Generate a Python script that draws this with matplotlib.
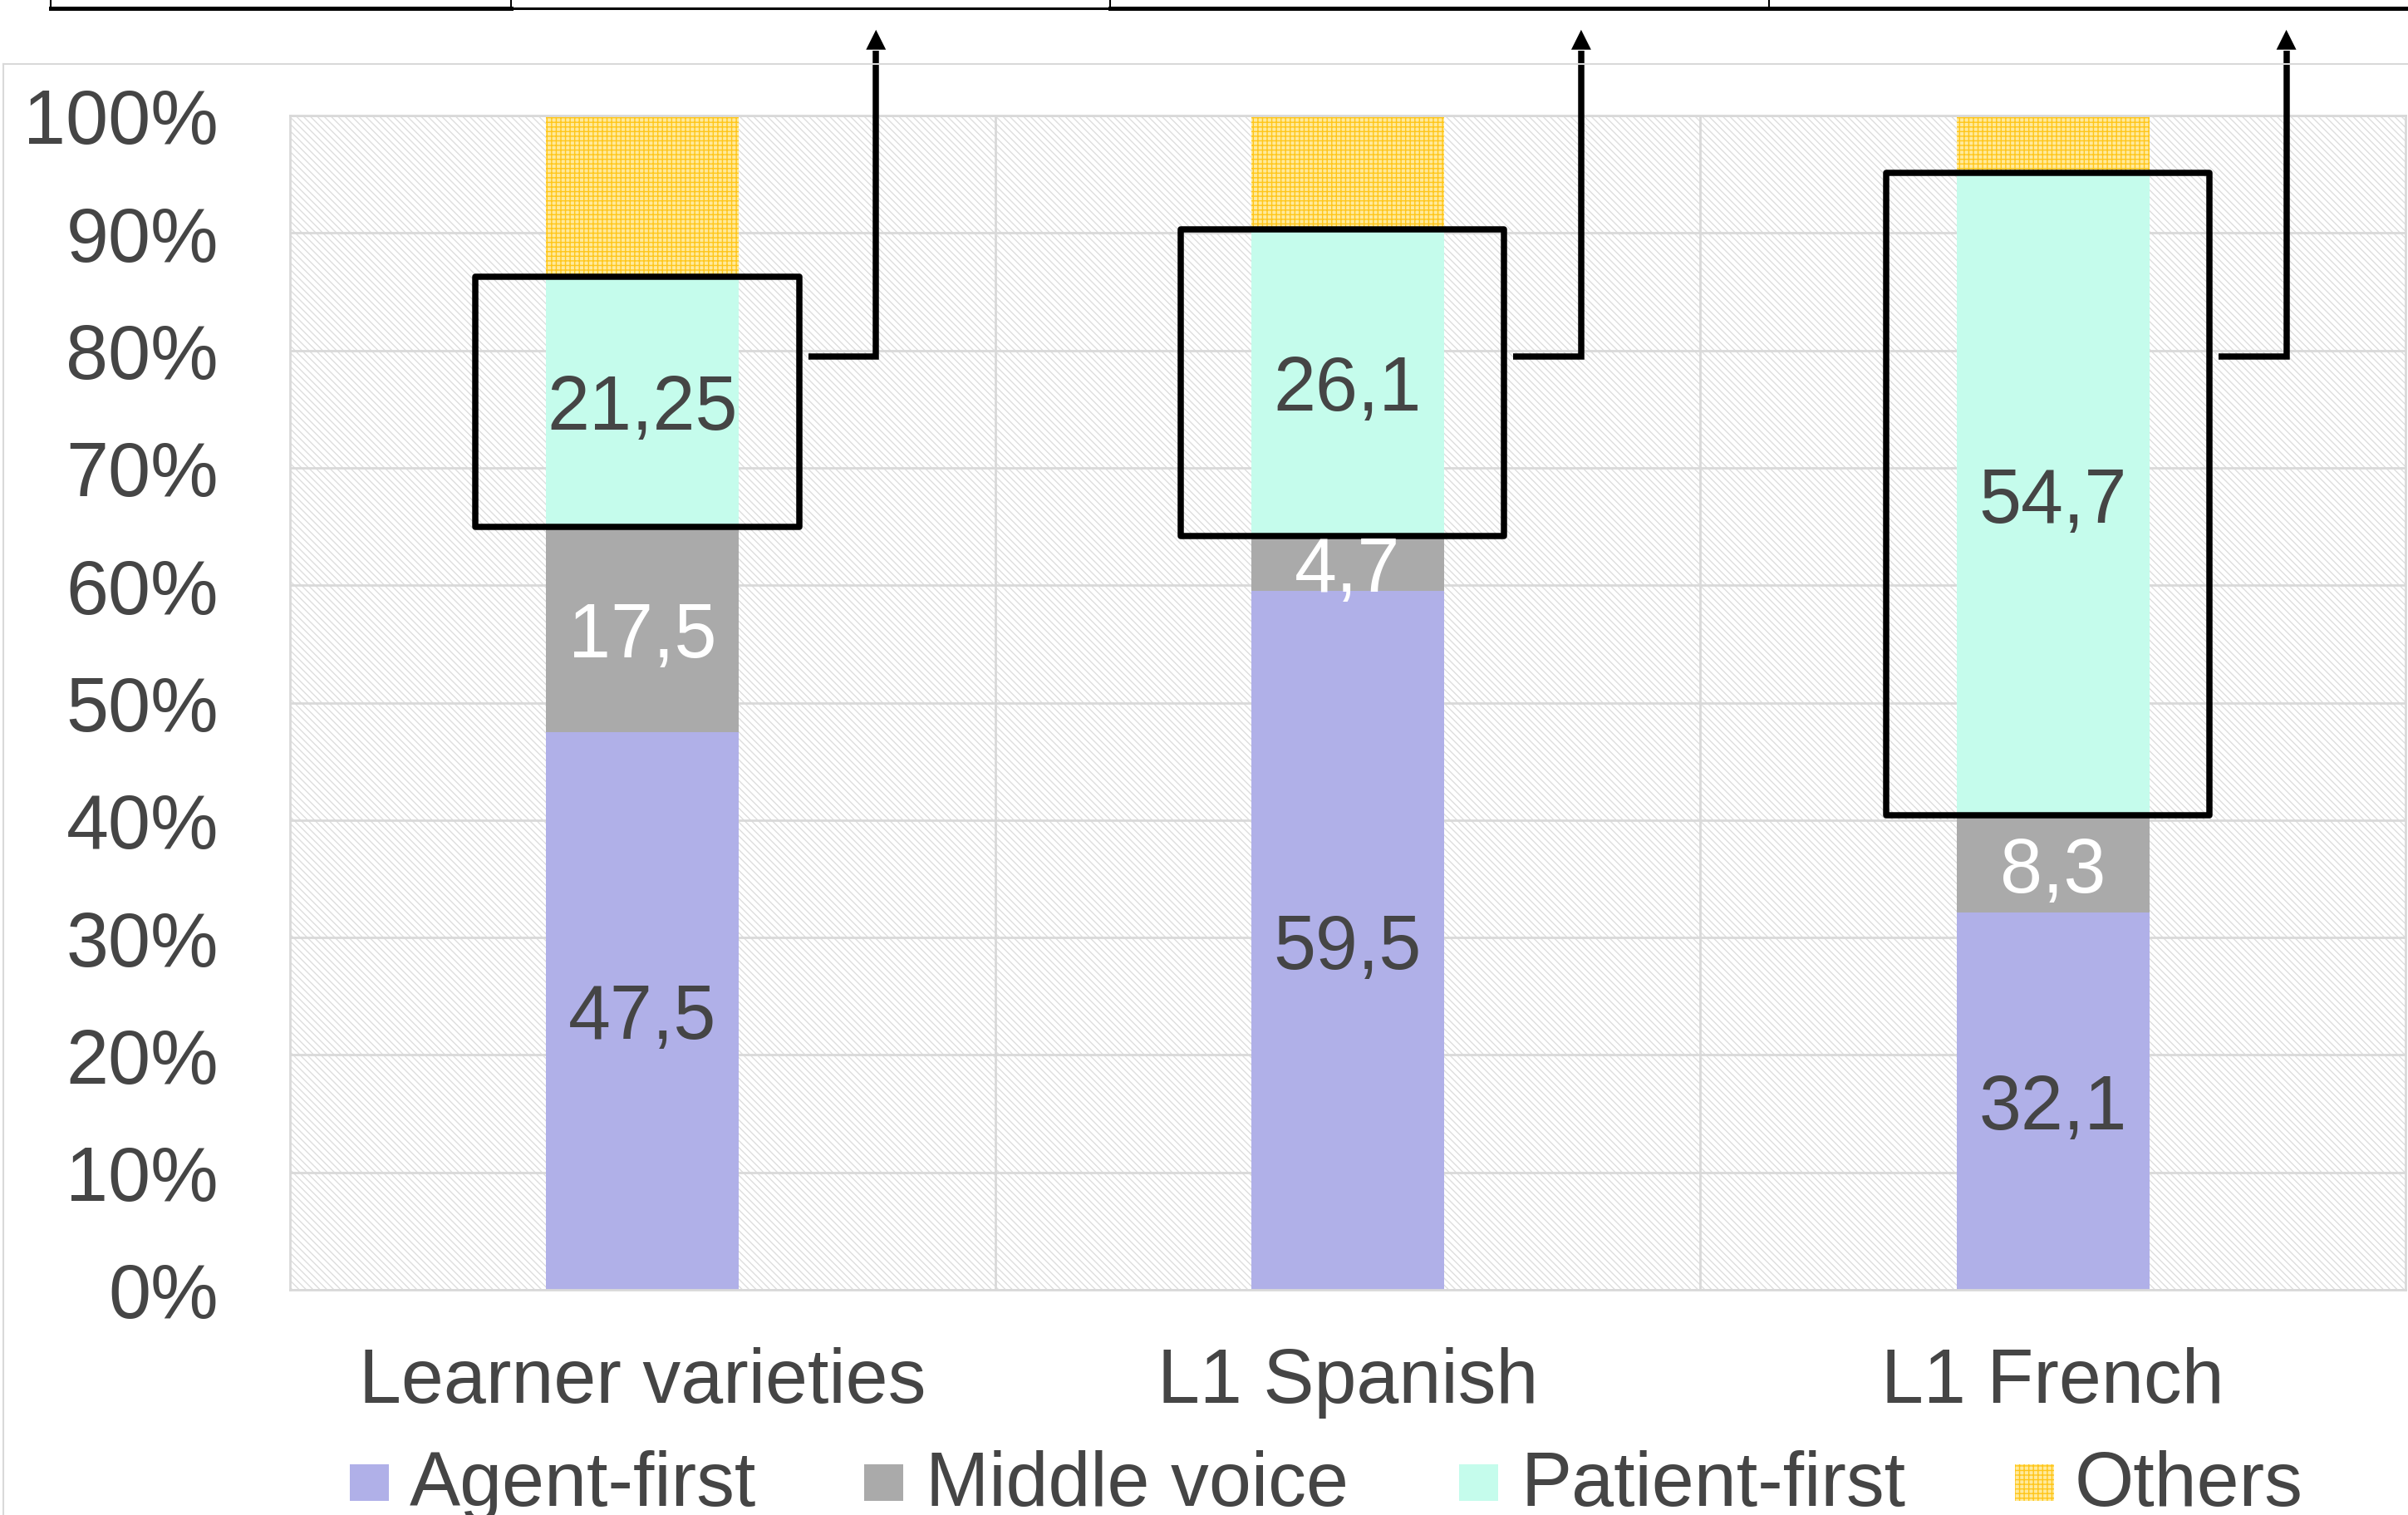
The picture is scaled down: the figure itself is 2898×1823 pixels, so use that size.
import matplotlib
matplotlib.use("Agg")
import matplotlib.pyplot as plt
from matplotlib.patches import Rectangle
from matplotlib.lines import Line2D
import numpy as np

# --- data (percent) ---
categories = ["Learner varieties", "L1 Spanish", "L1 French"]
series_names = ["Agent-first", "Middle voice", "Patient-first", "Others"]
agent_first = [47.5, 59.5, 32.1]
middle_voice = [17.5, 4.7, 8.3]
patient_first = [21.25, 26.1, 54.7]
others = [13.75, 9.7, 4.9]
y_ticks = [0, 10, 20, 30, 40, 50, 60, 70, 80, 90, 100]

# --- styling ---
TXT = "#454545"
GRID = "#D9D9D9"
AGENT = "#B0B0E8"
MIDDLE = "#AAAAAA"
PATIENT = "#C5FCEC"
OTHERS_BASE = "#FFEA9C"
OTHERS_HATCH = "#FFC61A"
FS = 66

plt.rcParams["font.family"] = ["Liberation Sans", "DejaVu Sans"]
plt.rcParams["hatch.linewidth"] = 1.0

W, H = 2898, 1824
fig = plt.figure(figsize=(W / 100, H / 100), dpi=100)
ax = fig.add_axes([349 / W, 1 - 1553 / H, (2895 - 349) / W, (1553 - 140) / H])

# plot-area background with fine diagonal pattern
ax.add_patch(Rectangle((0, 0), 1, 1, transform=ax.transAxes, facecolor="white",
                       edgecolor="#DEDEDE", hatch="\\\\\\\\", lw=0, zorder=0))

x = np.arange(len(categories))
bottom = np.zeros(len(categories))
specs = [
    (agent_first, dict(color=AGENT), TXT),
    (middle_voice, dict(color=MIDDLE), "white"),
    (patient_first, dict(color=PATIENT), TXT),
    (others, dict(facecolor=OTHERS_BASE, edgecolor=OTHERS_HATCH, hatch="+++"), None),
]
for vals, kw, lab_col in specs:
    bars = ax.bar(x, vals, width=0.273, bottom=bottom, linewidth=0, zorder=2, **kw)
    if lab_col is not None:
        labels = [f"{v:g}".replace(".", ",") for v in vals]
        texts = ax.bar_label(bars, labels=labels, label_type="center", fontsize=FS,
                             color=lab_col, zorder=6)
        for t in texts:
            t.xyann = (0, -6.5)  # nudge so the digits sit centred like the original
    bottom = bottom + np.array(vals)

# boxes around the patient-first segments + arrows going up
seg_lo = np.array(agent_first) + np.array(middle_voice)
for i in range(len(categories)):
    ax.add_patch(Rectangle((i - 0.237, seg_lo[i]), 0.459, patient_first[i], fill=False,
                           edgecolor="black", lw=5.4, joinstyle="round", zorder=5))
    xv = i + 0.331
    ax.plot([i + 0.235, xv, xv], [79.5, 79.5, 105.5], color="black", lw=5.4,
            solid_joinstyle="miter", solid_capstyle="butt", clip_on=False, zorder=5)
    ax.annotate("", xy=(xv, 107.3), xytext=(xv, 105.0),
                arrowprops=dict(arrowstyle="-|>,head_length=0.4,head_width=0.2",
                                mutation_scale=43, color="black", lw=0,
                                shrinkA=0, shrinkB=0),
                annotation_clip=False, zorder=5)

ax.set_xlim(-0.5, 2.5)
ax.set_ylim(0, 100)
ax.set_axisbelow(True)
ax.yaxis.grid(True, color=GRID, lw=2)
for xb in (0.5, 1.5):
    ax.axvline(xb, color=GRID, lw=2, zorder=0.6)
for sp in ax.spines.values():
    sp.set_color(GRID)
    sp.set_linewidth(2)

ax.set_yticks(y_ticks, labels=[f"{t}%" for t in y_ticks])
ax.set_xticks(x, labels=categories)
ax.tick_params(axis="y", length=0, pad=62, labelsize=FS, labelcolor=TXT)
ax.tick_params(axis="x", length=0, pad=49, labelsize=FS, labelcolor=TXT)

# outer chart-area border (light gray)
fig.add_artist(Line2D([4 / W, 1], [1 - 78 / H] * 2, color=GRID, lw=1.5))
fig.add_artist(Line2D([4 / W] * 2, [0, 1 - 78 / H], color=GRID, lw=1.5))

# cut-off table lines at the very top
yl = 1 - 10.5 / H
fig.add_artist(Line2D([61 / W, 615 / W], [yl, yl], color="black", lw=3.6))
fig.add_artist(Line2D([615 / W, 1336 / W], [yl, yl], color="black", lw=2.2))
fig.add_artist(Line2D([1336 / W, 1], [yl, yl], color="black", lw=3.6))
for xt in (61, 615, 1336, 2129):
    fig.add_artist(Line2D([xt / W] * 2, [1, yl], color="black", lw=1.5))

# legend (manual, bottom row, cut off by the lower edge as in the original)
leg_marker_x = [421, 1040, 1756, 2425]
leg_text_x = [493, 1114, 1830, 2497]
leg_styles = [dict(facecolor=AGENT, lw=0), dict(facecolor=MIDDLE, lw=0),
              dict(facecolor=PATIENT, lw=0),
              dict(facecolor=OTHERS_BASE, edgecolor=OTHERS_HATCH, hatch="+++", lw=0)]
for name, mx, tx, st in zip(series_names, leg_marker_x, leg_text_x, leg_styles):
    fig.add_artist(Rectangle((mx / W, 1 - 1807 / H), 47 / W, 44 / H,
                             transform=fig.transFigure, **st))
    fig.text(tx / W, 1 - 1812 / H, name, fontsize=FS, color=TXT, va="baseline")

fig.savefig("out.png", dpi=100)
